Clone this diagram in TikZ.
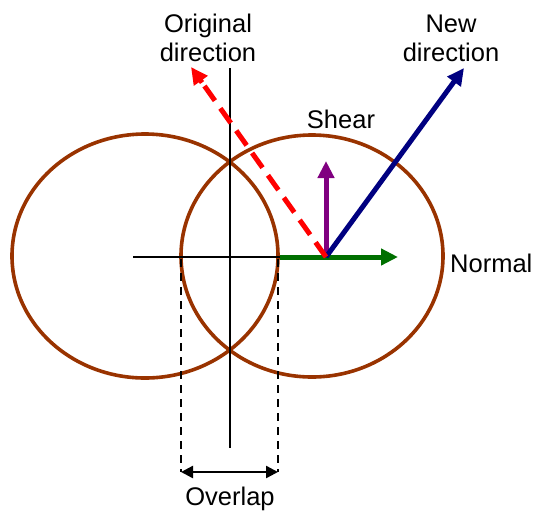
\documentclass[tikz,border=0pt]{standalone}
\usepackage{fontspec}
\setmainfont{Liberation Sans}
\usetikzlibrary{arrows.meta,calc}
\definecolor{rust}{RGB}{153,51,0}
\definecolor{navyb}{RGB}{0,0,128}
\definecolor{purp}{RGB}{128,0,128}
\definecolor{grn}{RGB}{0,112,0}
\tikzset{
  lbl/.style={font=\fontsize{25.5}{29}\selectfont, inner sep=0pt, align=center},
  oval/.style={draw=rust, line width=3.6pt},
  axis/.style={draw=black, line width=1.8pt},
  vec/.style={line width=5pt, -{Triangle[length=17pt,width=16pt]}},
  guide/.style={draw=black, line width=2.2pt, dash pattern=on 8pt off 6pt},
}
\begin{document}
\begin{tikzpicture}[x=1pt,y=-1pt]
\useasboundingbox (0,0) rectangle (534,515);
% ellipses
\draw[oval] (145,256) ellipse [x radius=133pt, y radius=122pt];
\draw[oval] (312,256) ellipse [x radius=131pt, y radius=121pt];
% axes
\coordinate (vt) at (230,68);
\coordinate (vb) at (230,448);
\coordinate (hl) at (133,257);
\coordinate (hm) at (280,257);
\coordinate (O) at (326,257);
\draw[axis] (vt) -- (vb);
\draw[axis] (hl) -- (hm);
% vectors
\coordinate (gt) at (398,257);
\coordinate (pt) at (326,161);
\coordinate (bt) at (464,68);
\coordinate (rt) at (191,67);
\draw[vec, grn] (hm) -- (gt);
\draw[vec, purp] (O) -- (pt);
\draw[vec, navyb] (O) -- (bt);
\draw[red, line width=5pt, dash pattern=on 18pt off 9.4pt] (O) -- ($(O)!210pt!(rt)$);
\draw[red, line width=5pt, -{Triangle[length=17pt,width=16pt]}] ($(O)!214pt!(rt)$) -- (rt);
% overlap guides
\coordinate (g1t) at (181,259);
\coordinate (g1b) at (181,472);
\coordinate (g2t) at (278,259);
\coordinate (g2b) at (278,472);
\draw[guide] (g1t) -- (g1b);
\draw[guide] (g2t) -- (g2b);
\draw[black, line width=2.4pt, {Triangle[length=12pt,width=12pt]}-{Triangle[length=12pt,width=12pt]}] (g1b) -- (g2b);
% labels
\node[lbl] (ov) at (230,499) {Overlap};
\node[lbl] (sh) at (341,119) {Shear};
\node[lbl, anchor=west] (nm) at (450,263) {Normal};
\node[lbl] (od) at (208,38) {Original\\direction};
\node[lbl] (nd) at (451,38) {New\\direction};
\end{tikzpicture}
\end{document}
